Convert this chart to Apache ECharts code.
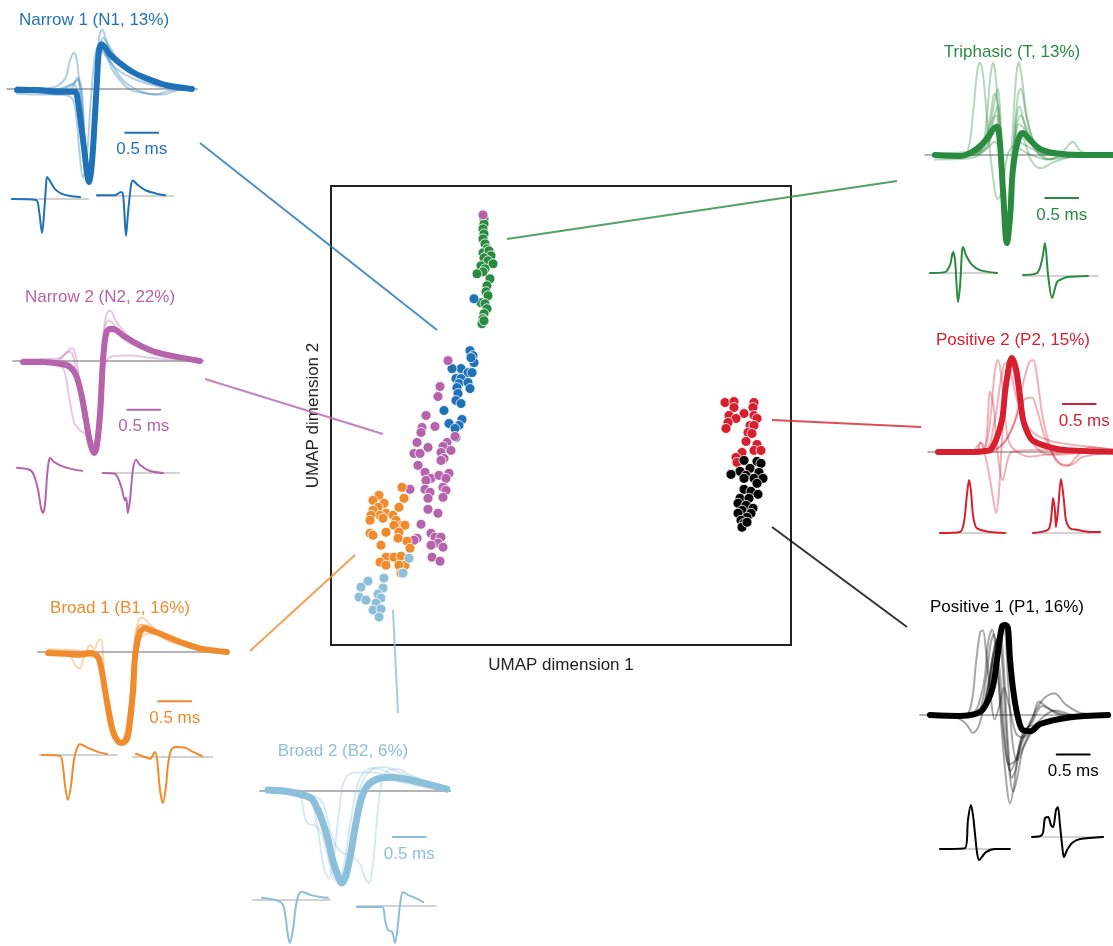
<!DOCTYPE html>
<html>
<head>
<meta charset="utf-8">
<script src="https://cdn.jsdelivr.net/npm/echarts@6/dist/echarts.min.js"></script>
<style>
  html, body { margin: 0; padding: 0; background: #fff; }
  #chart { width: 1113px; height: 946px; }
</style>
</head>
<body>
<div id="chart"></div>
<script>
// ---- UMAP embedding, one array per cluster: [dim1, dim2] ----
const UMAP_T = [[15.3,42.7],[15.3,42.2],[15.2,41.7],[15.3,41.2],[15.2,40.7],[15.4,40.2],[15.6,39.7],[15.2,39.3],[15.8,39.5],[16.0,39.0],[15.3,38.8],[15.7,38.5],[16.2,38.2],[15.0,38.0],[15.4,37.7],[15.2,37.4],[14.6,37.2],[15.9,36.7],[15.6,36.0],[15.5,35.4],[15.7,35.0],[15.0,34.3],[15.4,34.2],[15.6,33.7],[15.3,33.2],[15.2,32.7],[15.1,32.2],[15.3,32.5]];
const UMAP_N1 = [[14.3,34.7],[13.9,29.5],[14.2,29.0],[14.3,28.3],[14.0,28.8],[13.0,27.7],[12.1,27.7],[13.7,27.3],[14.1,27.3],[12.5,26.7],[13.0,26.7],[12.8,26.2],[13.7,26.3],[13.9,25.7],[12.6,25.8],[12.7,25.2],[12.5,24.5],[13.0,24.2],[11.3,23.5],[11.8,22.2],[13.1,22.6],[12.8,22.0],[12.4,21.7],[12.5,20.8]];
const UMAP_N2 = [[15.2,43.1],[11.7,28.5],[10.9,25.9],[10.7,24.9],[9.5,23.0],[9.1,21.8],[9.0,21.3],[10.4,21.9],[8.6,20.3],[9.7,19.8],[8.3,19.2],[8.9,19.2],[11.6,20.3],[11.2,19.9],[11.0,19.3],[12.0,19.5],[11.3,18.7],[11.0,18.5],[12.4,20.9],[8.7,18.0],[9.4,17.3],[10.0,16.7],[9.5,16.5],[10.8,17.0],[11.8,17.2],[11.5,16.7],[9.4,15.6],[11.2,15.8],[11.5,15.5],[11.2,14.8],[9.9,15.3],[9.7,14.7],[7.9,15.6],[9.7,13.6],[10.7,13.2],[9.0,12.1],[8.6,10.7],[8.3,10.5],[10.0,11.2],[10.4,10.8],[11.0,10.8],[10.7,10.2],[11.2,9.8],[10.1,8.8],[10.9,8.4],[10.0,10.0]];
const UMAP_B1 = [[7.1,15.8],[7.3,14.7],[4.8,15.0],[4.2,14.5],[5.3,14.2],[4.7,13.8],[4.2,13.5],[5.5,13.2],[4.9,13.0],[6.2,13.0],[6.8,13.8],[4.0,13.0],[3.9,12.5],[5.2,12.7],[6.5,12.5],[7.1,12.0],[6.3,12.0],[7.4,12.0],[5.5,11.3],[3.9,11.2],[4.2,11.0],[6.8,11.3],[7.6,10.4],[6.7,10.7],[5.0,10.0],[7.9,9.7],[5.8,8.8],[5.5,8.8],[6.3,8.8],[4.9,8.3],[7.0,8.9],[7.4,8.0],[6.8,8.0],[5.5,8.0],[7.0,7.2]];
const UMAP_B2 = [[7.8,8.7],[7.2,7.2],[5.3,6.7],[3.7,6.4],[3.0,5.8],[5.2,5.7],[2.8,4.8],[4.7,5.1],[5.0,4.7],[3.5,4.5],[4.5,4.2],[4.2,3.5],[5.0,3.6],[4.8,2.8]];
const UMAP_P2 = [[39.4,24.3],[40.3,24.4],[42.3,24.3],[40.3,23.8],[42.2,23.8],[41.3,23.2],[39.8,23.0],[40.5,22.7],[42.3,23.0],[42.6,22.7],[39.7,22.3],[39.5,21.7],[41.9,22.0],[42.3,22.0],[41.7,21.3],[42.1,21.2],[41.5,20.4],[42.6,20.1],[42.3,19.5],[43.0,19.5],[41.1,19.3],[40.5,18.8],[40.6,18.3]];
const UMAP_P1 = [[41.3,18.5],[42.6,18.4],[43.0,18.2],[41.9,17.7],[40.9,17.4],[40.0,17.1],[41.5,17.0],[42.8,17.3],[42.3,16.7],[43.2,16.7],[41.3,16.7],[42.6,16.2],[41.3,15.6],[42.0,15.4],[42.7,15.1],[40.9,14.7],[41.8,14.7],[40.7,14.2],[41.5,14.0],[42.2,13.7],[41.1,13.5],[40.7,13.2],[42.0,13.2],[41.6,12.8],[41.0,12.5],[41.3,12.2],[41.1,11.8],[41.6,12.3]];

// ---- waveforms: [time (ms), normalised amplitude] ----
const N1_MEAN = [[0,-0.01],[0.3,-0.01],[0.6,-0.03],[0.8,-0.03],[0.88,-0.03],[0.92,-0.12],[0.97,-0.38],[1.02,-0.66],[1.06,-0.9],[1.09,-1.0],[1.12,-0.9],[1.15,-0.66],[1.18,-0.3],[1.21,0.06],[1.24,0.4],[1.28,0.48],[1.33,0.45],[1.4,0.38],[1.52,0.3],[1.76,0.18],[2.02,0.1],[2.27,0.04],[2.65,0]];
const N1_VARS = [
  [[0,0],[0.5,0.01],[0.72,0.1],[0.8,0.3],[0.86,0.39],[0.91,0.3],[0.96,-0.1],[1.02,-0.6],[1.07,-0.95],[1.1,-0.9],[1.15,-0.45],[1.2,0.2],[1.25,0.58],[1.29,0.64],[1.35,0.53],[1.48,0.31],[1.79,0.15],[2.17,0.04],[2.65,0]],
  [[0,-0.05],[0.5,-0.06],[0.8,-0.02],[0.92,0.12],[0.98,0.0],[1.03,-0.6],[1.08,-0.98],[1.12,-0.85],[1.18,-0.2],[1.23,0.35],[1.28,0.5],[1.4,0.32],[1.6,0.1],[1.85,-0.02],[2.1,-0.06],[2.3,-0.02],[2.65,0]],
  [[0,0.02],[0.6,0.0],[0.85,0.06],[0.92,0.1],[0.98,-0.1],[1.04,-0.7],[1.1,-0.98],[1.14,-0.8],[1.2,-0.1],[1.25,0.4],[1.3,0.55],[1.38,0.48],[1.55,0.3],[1.8,0.14],[2.1,0.05],[2.65,0.0]],
  [[0,-0.02],[0.6,-0.06],[0.8,-0.08],[0.88,-0.2],[0.95,-0.7],[1.0,-0.95],[1.05,-0.8],[1.12,-0.1],[1.18,0.35],[1.23,0.45],[1.35,0.35],[1.5,0.22],[1.8,0.1],[2.2,0.02],[2.65,0]],
  [[0,0.02],[0.7,0.0],[0.85,0.05],[0.95,-0.2],[1.03,-0.75],[1.09,-0.98],[1.13,-0.8],[1.19,-0.1],[1.25,0.35],[1.3,0.42],[1.45,0.2],[1.7,0.0],[2.0,-0.05],[2.2,-0.06],[2.4,-0.02],[2.65,0]]
];
const N1_EX_A = [[0,0],[0.91,-0.03],[1.02,-0.32],[1.14,-1.0],[1.21,-0.47],[1.29,0.41],[1.33,0.65],[1.44,0.53],[1.63,0.29],[1.89,0.15],[2.2,0.09],[2.58,0.06]];
const N1_EX_B = [[0,0.02],[0.68,0.02],[0.91,0.1],[0.98,0.05],[1.02,-0.22],[1.1,-1.0],[1.17,-0.46],[1.29,0.27],[1.36,0.39],[1.52,0.29],[1.82,0.15],[2.2,0.07],[2.58,0.02]];

const N2_MEAN = [[0,-0.01],[0.3,-0.01],[0.56,-0.03],[0.7,-0.06],[0.8,-0.15],[0.88,-0.35],[0.95,-0.62],[1.01,-0.86],[1.08,-1.0],[1.12,-0.92],[1.17,-0.56],[1.21,-0.02],[1.26,0.3],[1.32,0.35],[1.4,0.34],[1.55,0.26],[1.77,0.17],[2.0,0.1],[2.3,0.05],[2.68,0.0]];
const N2_VARS = [
  [[0,0],[0.5,0.0],[0.65,0.08],[0.74,0.14],[0.8,0.05],[0.88,-0.35],[0.96,-0.75],[1.04,-0.98],[1.1,-0.9],[1.16,-0.4],[1.21,0.25],[1.27,0.52],[1.32,0.55],[1.42,0.42],[1.6,0.27],[1.9,0.12],[2.3,0.04],[2.68,0]],
  [[0,-0.02],[0.5,-0.04],[0.62,-0.1],[0.7,-0.4],[0.78,-0.68],[0.86,-0.75],[0.95,-0.8],[1.03,-0.97],[1.09,-0.9],[1.15,-0.4],[1.2,0.1],[1.27,0.3],[1.35,0.32],[1.6,0.2],[2.0,0.08],[2.68,0]],
  [[0,0.01],[0.6,0],[0.8,-0.1],[0.92,-0.6],[1.02,-0.95],[1.1,-0.85],[1.18,-0.3],[1.25,-0.02],[1.35,0.05],[1.6,0.06],[2.0,0.03],[2.68,0]],
  [[0,0.02],[0.55,0.03],[0.68,0.1],[0.75,0.08],[0.82,-0.2],[0.9,-0.55],[1.0,-0.9],[1.07,-1.0],[1.12,-0.8],[1.18,-0.2],[1.24,0.35],[1.3,0.44],[1.45,0.33],[1.7,0.18],[2.1,0.06],[2.68,0]]
];
const N2_EX_A = [[0,0.05],[0.49,0],[0.64,-0.12],[0.8,-0.47],[0.91,-0.88],[0.98,-1.0],[1.06,-0.81],[1.14,-0.12],[1.21,0.23],[1.25,0.28],[1.4,0.19],[1.7,0.09],[2.08,0.02],[2.46,-0.02]];
const N2_EX_B = [[0.04,0],[0.49,-0.02],[0.64,-0.18],[0.76,-0.42],[0.87,-0.68],[0.91,-0.62],[0.95,-0.8],[0.98,-1.0],[1.06,-0.68],[1.17,0.08],[1.29,0.33],[1.44,0.2],[1.82,0.05],[2.31,0]];

const B1_MEAN = [[0,-0.01],[0.26,-0.02],[0.48,-0.03],[0.64,-0.01],[0.74,-0.04],[0.79,-0.12],[0.89,-0.53],[0.98,-0.86],[1.06,-0.98],[1.12,-1.0],[1.2,-0.95],[1.24,-0.78],[1.29,-0.42],[1.32,-0.05],[1.39,0.21],[1.47,0.26],[1.55,0.24],[1.7,0.2],[2.0,0.11],[2.3,0.04],[2.71,0]];
const B1_VARS = [
  [[0,0.02],[0.5,0.0],[0.7,-0.02],[0.8,-0.2],[0.9,-0.6],[1.0,-0.9],[1.1,-1.0],[1.18,-0.92],[1.25,-0.5],[1.3,0.05],[1.36,0.32],[1.42,0.38],[1.52,0.32],[1.7,0.2],[2.0,0.1],[2.71,0]],
  [[0,0.0],[0.3,-0.02],[0.42,-0.15],[0.48,-0.18],[0.55,-0.05],[0.64,0.08],[0.7,0.03],[0.76,0.12],[0.8,0.14],[0.86,-0.3],[0.95,-0.75],[1.05,-0.97],[1.12,-0.98],[1.2,-0.8],[1.28,-0.2],[1.34,0.2],[1.42,0.3],[1.6,0.22],[1.9,0.1],[2.71,0]],
  [[0,-0.03],[0.6,-0.05],[0.76,-0.08],[0.84,-0.4],[0.95,-0.85],[1.06,-1.0],[1.16,-0.95],[1.24,-0.6],[1.3,-0.1],[1.38,0.12],[1.5,0.2],[1.7,0.19],[2.0,0.12],[2.4,0.03],[2.71,0]],
  [[0,0.03],[0.4,0.02],[0.7,0.0],[0.82,-0.35],[0.92,-0.8],[1.02,-0.98],[1.12,-0.97],[1.22,-0.7],[1.28,-0.2],[1.33,0.18],[1.4,0.3],[1.55,0.28],[1.75,0.18],[2.1,0.08],[2.71,0]]
];
const B1_EX_A = [[0,0],[0.68,-0.02],[0.8,-0.29],[0.87,-0.67],[0.98,-1.0],[1.1,-0.67],[1.21,-0.11],[1.33,0.16],[1.44,0.24],[1.74,0.16],[2.12,0.07],[2.46,0.02]];
const B1_EX_B = [[0,0.07],[0.34,0],[0.53,-0.04],[0.72,0.11],[0.8,-0.07],[0.91,-0.72],[1.02,-1.0],[1.14,-0.61],[1.21,-0.17],[1.33,0.15],[1.48,0.22],[1.86,0.2],[2.16,0.11],[2.5,0.02]];

const B2_MEAN = [[0,0.01],[0.33,-0.01],[0.56,-0.05],[0.67,-0.09],[0.76,-0.21],[0.83,-0.34],[0.91,-0.53],[0.98,-0.75],[1.06,-0.92],[1.12,-1.0],[1.18,-0.92],[1.24,-0.73],[1.32,-0.4],[1.39,-0.15],[1.48,0.03],[1.62,0.12],[1.85,0.15],[2.08,0.13],[2.38,0.08],[2.71,0.02]];
const B2_VARS = [
  [[0,0.02],[0.5,-0.02],[0.8,-0.1],[0.95,-0.45],[1.05,-0.62],[1.15,-0.68],[1.3,-0.72],[1.4,-0.8],[1.47,-0.95],[1.53,-1.0],[1.58,-0.85],[1.64,-0.4],[1.7,0.0],[1.78,0.2],[1.95,0.24],[2.2,0.16],[2.71,0.03]],
  [[0,0.0],[0.4,-0.02],[0.5,-0.08],[0.56,-0.3],[0.62,-0.36],[0.7,-0.37],[0.8,-0.45],[0.9,-0.7],[1.0,-0.95],[1.08,-0.98],[1.15,-0.8],[1.25,-0.35],[1.35,0.05],[1.45,0.2],[1.6,0.25],[1.9,0.18],[2.3,0.08],[2.71,0.02]],
  [[0,0.0],[0.5,-0.03],[0.65,-0.1],[0.75,-0.4],[0.85,-0.85],[0.92,-0.95],[1.0,-0.7],[1.08,-0.2],[1.15,0.1],[1.3,0.2],[1.6,0.2],[2.0,0.1],[2.71,0.0]],
  [[0,0.03],[0.5,0.0],[0.7,-0.1],[0.85,-0.45],[1.0,-0.88],[1.1,-0.98],[1.2,-0.8],[1.3,-0.35],[1.4,0.05],[1.55,0.22],[1.75,0.26],[2.0,0.2],[2.4,0.08],[2.71,0.0]]
];
const B2_EX_A = [[0,0.05],[0.61,-0.02],[0.8,-0.12],[0.91,-0.47],[0.98,-0.81],[1.06,-1.0],[1.17,-0.7],[1.29,-0.12],[1.4,0.14],[1.52,0.19],[1.82,0.12],[2.2,0.07],[2.5,0.05]];
const B2_EX_B = [[0,-0.03],[0.95,-0.03],[1.06,-0.38],[1.17,-0.65],[1.33,-0.7],[1.44,-1.0],[1.55,-0.51],[1.63,0.03],[1.74,0.38],[1.93,0.3],[2.2,0.22],[2.5,0.11]];

const T_MEAN = [[0,0],[0.38,-0.01],[0.55,0.03],[0.71,0.12],[0.82,0.22],[0.88,0.29],[0.94,0.32],[0.98,0.17],[1.03,-0.4],[1.09,-1.0],[1.14,-0.68],[1.18,-0.17],[1.26,0.17],[1.33,0.25],[1.44,0.17],[1.59,0.07],[1.82,0.02],[2.2,0],[2.75,0]];
const T_VARS = [
  [[0,0.0],[0.4,0.0],[0.5,0.05],[0.58,0.5],[0.64,0.95],[0.68,1.05],[0.73,0.9],[0.8,0.3],[0.87,-0.2],[0.95,-0.5],[1.02,-0.4],[1.1,0.0],[1.2,0.1],[1.4,0.02],[1.7,-0.05],[2.1,-0.02],[2.75,0]],
  [[0,-0.02],[0.5,-0.01],[0.7,0.05],[0.78,0.4],[0.84,0.9],[0.88,1.05],[0.93,0.8],[0.98,0.0],[1.04,-0.8],[1.09,-0.95],[1.14,-0.6],[1.2,-0.1],[1.27,0.15],[1.4,0.1],[1.7,0.0],[2.75,0]],
  [[0,0.01],[0.6,0.0],[0.8,0.08],[0.9,0.15],[0.98,0.05],[1.04,-0.7],[1.08,-0.9],[1.13,-0.5],[1.18,0.3],[1.23,0.9],[1.27,1.05],[1.32,0.85],[1.4,0.4],[1.5,0.15],[1.65,0.05],[1.95,0.0],[2.75,0]],
  [[0,0],[0.6,0.02],[0.8,0.25],[0.9,0.6],[0.95,0.75],[1.0,0.3],[1.05,-0.6],[1.1,-0.85],[1.15,-0.4],[1.22,0.35],[1.28,0.55],[1.36,0.35],[1.5,0.12],[1.8,0.02],[2.75,0]],
  [[0,0.02],[0.7,0.05],[0.85,0.2],[0.93,0.35],[0.99,0.0],[1.05,-0.75],[1.1,-0.85],[1.16,-0.3],[1.24,0.35],[1.3,0.45],[1.4,0.25],[1.55,0.05],[1.75,-0.05],[1.95,0.05],[2.09,0.15],[2.2,0.05],[2.4,0.0],[2.75,0]],
  [[0,-0.05],[0.5,-0.04],[0.8,0.1],[0.9,0.45],[0.95,0.55],[1.0,0.2],[1.05,-0.5],[1.1,-0.8],[1.16,-0.45],[1.24,0.1],[1.32,0.2],[1.45,-0.05],[1.6,-0.15],[1.8,-0.08],[2.1,-0.02],[2.75,0]],
  [[0,0],[0.6,0.02],[0.75,0.15],[0.85,0.5],[0.9,0.7],[0.95,0.6],[1.0,0.1],[1.05,-0.7],[1.09,-0.95],[1.14,-0.55],[1.2,0.2],[1.26,0.7],[1.3,0.75],[1.38,0.45],[1.5,0.15],[1.7,0.0],[2.75,0]],
  [[0,0],[0.65,0.03],[0.8,0.2],[0.88,0.42],[0.93,0.45],[0.99,0.05],[1.05,-0.85],[1.09,-1.0],[1.14,-0.6],[1.2,0.05],[1.27,0.35],[1.35,0.3],[1.5,0.08],[1.7,-0.05],[1.9,-0.02],[2.75,0]]
];
const T_EX_A = [[0,0],[0.57,0.03],[0.76,0.28],[0.87,0.72],[0.95,0.45],[1.06,-1.0],[1.14,-0.41],[1.21,0.72],[1.25,0.9],[1.36,0.62],[1.59,0.28],[1.89,0.1],[2.54,0]];
const T_EX_B = [[0,0.03],[0.53,0.09],[0.72,0.48],[0.83,1.0],[0.95,0.03],[1.1,-0.67],[1.29,-0.18],[1.48,-0.09],[1.67,-0.03],[2.46,0]];

const P2_MEAN = [[0,0],[0.48,0],[0.71,0.01],[0.79,0.02],[0.88,0.13],[0.97,0.34],[1.02,0.66],[1.08,0.93],[1.12,1.0],[1.18,0.89],[1.23,0.66],[1.29,0.34],[1.36,0.2],[1.44,0.12],[1.7,0.05],[1.95,0.02],[2.75,0]];
const P2_VARS = [
  [[0,0],[0.6,0.0],[0.72,0.05],[0.8,0.4],[0.86,0.85],[0.91,0.98],[0.96,0.8],[1.02,0.35],[1.08,0.1],[1.2,0.0],[1.4,-0.05],[1.7,-0.02],[2.75,0]],
  [[0,0],[0.8,0.0],[1.0,0.1],[1.15,0.3],[1.28,0.7],[1.38,0.95],[1.44,0.98],[1.5,0.8],[1.58,0.4],[1.68,0.1],[1.8,-0.1],[1.95,-0.15],[2.1,-0.05],[2.3,0.05],[2.75,0.0]],
  [[0,0],[0.59,0.02],[0.64,0.1],[0.71,-0.03],[0.79,-0.3],[0.85,-0.56],[0.88,-0.65],[0.92,-0.46],[0.97,0.13],[1.02,0.6],[1.09,0.98],[1.17,0.77],[1.27,0.34],[1.39,0.13],[1.7,-0.03],[2.45,0],[2.75,0]],
  [[0,0],[0.5,0.0],[0.62,0.08],[0.66,0.1],[0.7,0.05],[0.74,0.2],[0.79,0.64],[0.84,0.5],[0.9,0.0],[0.98,-0.3],[1.05,-0.1],[1.12,0.0],[1.5,0.02],[2.75,0]],
  [[0,0.0],[0.8,0.02],[1.0,0.1],[1.15,0.3],[1.3,0.55],[1.42,0.58],[1.5,0.45],[1.6,0.2],[1.72,0.0],[1.85,-0.12],[2.0,-0.14],[2.2,-0.05],[2.75,0.0]],
  [[0,0.0],[0.7,0.02],[0.85,0.3],[0.95,0.75],[1.02,0.95],[1.08,0.9],[1.18,0.6],[1.3,0.35],[1.45,0.2],[1.7,0.12],[2.0,0.08],[2.75,0.02]]
];
const P2_EX_A = [[0,0],[0.76,0.02],[0.91,0.21],[1.02,0.72],[1.1,1.0],[1.17,0.81],[1.25,0.34],[1.36,0.11],[1.52,0.06],[1.89,0.02],[2.46,0]];
const P2_EX_B = [[0,0],[0.57,0.06],[0.68,0.24],[0.76,0.65],[0.83,0.43],[0.87,0.11],[0.95,0.43],[1.06,1.0],[1.17,0.61],[1.25,0.24],[1.4,0.09],[1.67,0.06],[2.16,0.02],[2.54,0.02]];

const P1_MEAN = [[0,0],[0.45,-0.01],[0.68,0.01],[0.8,0.06],[0.94,0.28],[1.02,0.64],[1.09,0.98],[1.14,1.0],[1.18,0.97],[1.21,0.64],[1.26,0.28],[1.33,-0.02],[1.41,-0.17],[1.52,-0.18],[1.67,-0.1],[2.08,-0.03],[2.7,0]];
const P1_VARS = [
  [[0,0.0],[0.6,0.0],[0.75,0.05],[0.85,0.4],[0.92,0.8],[0.97,0.9],[1.02,0.6],[1.08,-0.1],[1.15,-0.7],[1.21,-0.98],[1.27,-0.8],[1.35,-0.35],[1.45,-0.15],[1.7,-0.1],[2.1,-0.04],[2.7,0]],
  [[0,0.0],[0.5,-0.02],[0.62,0.1],[0.7,0.6],[0.76,0.92],[0.8,0.94],[0.85,0.7],[0.92,0.2],[0.98,-0.05],[1.05,0.1],[1.12,0.3],[1.2,0.1],[1.3,-0.2],[1.4,-0.25],[1.6,-0.1],[1.9,0.05],[2.2,0.0],[2.7,0]],
  [[0,0.02],[0.6,0.0],[0.8,0.3],[0.88,0.8],[0.94,0.95],[1.0,0.7],[1.06,0.2],[1.12,-0.25],[1.2,-0.55],[1.3,-0.5],[1.45,-0.2],[1.6,0.05],[1.75,0.2],[1.89,0.24],[2.05,0.12],[2.3,0.02],[2.7,0.0]],
  [[0,0.0],[0.4,-0.03],[0.55,-0.1],[0.65,-0.2],[0.75,-0.1],[0.88,0.35],[0.98,0.75],[1.06,0.9],[1.12,0.5],[1.18,-0.3],[1.24,-0.7],[1.3,-0.6],[1.4,-0.25],[1.55,-0.05],[1.65,0.15],[1.75,0.1],[2.0,0.0],[2.7,0]],
  [[0,-0.02],[0.7,0.0],[0.85,0.15],[0.95,0.55],[1.05,0.9],[1.12,0.95],[1.18,0.4],[1.25,-0.3],[1.32,-0.5],[1.42,-0.35],[1.6,-0.15],[2.0,-0.03],[2.7,0]],
  [[0,0],[0.7,0.0],[0.85,0.2],[0.95,0.65],[1.02,0.85],[1.08,0.7],[1.14,0.0],[1.2,-0.6],[1.26,-0.85],[1.32,-0.7],[1.42,-0.35],[1.6,-0.12],[2.0,-0.03],[2.7,0]],
  [[0,0.01],[0.7,0.0],[0.82,0.1],[0.92,0.45],[0.98,0.7],[1.04,0.6],[1.1,0.05],[1.16,-0.45],[1.22,-0.62],[1.3,-0.5],[1.4,-0.25],[1.55,-0.08],[1.7,0.1],[1.85,0.05],[2.1,0.0],[2.7,0]]
];
const P1_EX_A = [[0,0],[0.95,0.02],[1.06,0.66],[1.17,1.0],[1.25,0.77],[1.33,0.32],[1.4,-0.07],[1.48,-0.25],[1.59,-0.18],[1.74,-0.07],[2.08,0],[2.65,0]];
const P1_EX_B = [[0,0],[0.38,0.07],[0.49,0.63],[0.61,0.67],[0.72,0.4],[0.8,0.33],[0.91,0.9],[0.98,1.0],[1.06,0.4],[1.14,-0.27],[1.21,-0.67],[1.33,-0.43],[1.52,-0.2],[1.82,-0.07],[2.69,0]];

const SCALE_MS = 0.5;

// ---- layout (pixels) ----
const W = 1113, H = 946;
const FONT = '"Liberation Sans", Arial, Helvetica, sans-serif';
const K = 66, KE = 26.4;            // px per ms, main and example plots

const panels = [
  { title: 'Narrow 1 (N1, 13%)', color: '#1f72b8', tx: 94, ty: 20, x0: 17, y0: 89, U: 93, base: [-0.15, 2.73], bar: [1.64, -0.47],
    mean: N1_MEAN, vars: N1_VARS, line: [200, 143, 437, 330],
    ex: [{ d: N1_EX_A, x0: 12, y0: 199, U: 34, base: [0, 2.88] }, { d: N1_EX_B, x0: 97, y0: 196, U: 40, base: [0, 2.88] }] },
  { title: 'Narrow 2 (N2, 22%)', color: '#b564ac', tx: 100, ty: 297, x0: 23, y0: 361, U: 92, base: [-0.15, 2.73], bar: [1.58, -0.53],
    mean: N2_MEAN, vars: N2_VARS, line: [205, 379, 383, 434],
    ex: [{ d: N2_EX_A, x0: 17, y0: 470, U: 43, base: null }, { d: N2_EX_B, x0: 102, y0: 473, U: 40, base: [0, 2.92] }] },
  { title: 'Broad 1 (B1, 16%)', color: '#ef8a2d', tx: 120, ty: 608, x0: 48, y0: 652, U: 91, base: [-0.15, 2.73], bar: [1.67, -0.54],
    mean: B1_MEAN, vars: B1_VARS, line: [250, 651, 355, 555],
    ex: [{ d: B1_EX_A, x0: 42, y0: 755, U: 45, base: [-0.08, 2.84] }, { d: B1_EX_B, x0: 136, y0: 757, U: 46, base: [-0.11, 2.88] }] },
  { title: 'Broad 2 (B2, 6%)', color: '#8cbfd9', tx: 343, ty: 751, x0: 268, y0: 791, U: 92, base: [-0.12, 2.76], bar: [1.89, -0.5],
    mean: B2_MEAN, vars: B2_VARS, line: [393, 610, 398, 713], meanW: 7,
    ex: [{ d: B2_EX_A, x0: 262, y0: 900, U: 43, base: [-0.34, 2.58] }, { d: B2_EX_B, x0: 357, y0: 906, U: 37, base: [0, 2.99] }] },
  { title: 'Triphasic (T, 13%)', color: '#2a8b40', tx: 1012, ty: 52, x0: 935, y0: 155, U: 88, base: [-0.15, 2.85], bar: [1.67, -0.49],
    mean: T_MEAN, vars: T_VARS, line: [507, 239, 897, 181],
    ex: [{ d: T_EX_A, x0: 930, y0: 273, U: 29, base: [0, 2.54] }, { d: T_EX_B, x0: 1023, y0: 276, U: 33, base: [0, 2.84] }] },
  { title: 'Positive 2 (P2, 15%)', color: '#d62030', tx: 1013, ty: 340, x0: 938, y0: 452, U: 94, base: [-0.15, 2.85], bar: [1.89, 0.51],
    mean: P2_MEAN, vars: P2_VARS, line: [772, 420, 921, 427], barLabelShift: 5,
    ex: [{ d: P2_EX_A, x0: 940, y0: 533, U: 53, base: [0, 2.54] }, { d: P2_EX_B, x0: 1033, y0: 533, U: 54, base: [0, 2.54] }] },
  { title: 'Positive 1 (P1, 16%)', color: '#000000', tx: 1007, ty: 607, x0: 930, y0: 715, U: 90, base: [-0.15, 2.68], bar: [1.92, -0.44],
    mean: P1_MEAN, vars: P1_VARS, line: [772, 527, 907, 627],
    ex: [{ d: P1_EX_A, x0: 940, y0: 849, U: 44, base: [0, 2.65] }, { d: P1_EX_B, x0: 1032, y0: 837, U: 30, base: [0, 2.69] }] }
];

const clusters = [
  { data: UMAP_T, color: '#2a8b40' }, { data: UMAP_N1, color: '#1f72b8' }, { data: UMAP_N2, color: '#b564ac' },
  { data: UMAP_B1, color: '#ef8a2d' }, { data: UMAP_B2, color: '#8cbfd9' }, { data: UMAP_P2, color: '#d62030' },
  { data: UMAP_P1, color: '#000000' }
];

const grid = [], xAxis = [], yAxis = [], series = [], graphic = [];

// grid whose data origin (t=0, amp=0) sits at pixel (x0, y0); k px per ms, U px per amplitude unit.
// the value ranges are trimmed so every grid stays inside the canvas.
function addGrid(x0, y0, k, U) {
  const i = grid.length;
  const xmin = Math.max(-0.4, -(x0 - 1) / k), xmax = Math.min(3.2, (W - 1 - x0) / k);
  const ymax = Math.min(1.3, (y0 - 1) / U), ymin = Math.max(-1.3, -(H - 1 - y0) / U);
  grid.push({ left: x0 + xmin * k, top: y0 - ymax * U, width: (xmax - xmin) * k, height: (ymax - ymin) * U });
  xAxis.push({ type: 'value', gridIndex: i, min: xmin, max: xmax, show: false });
  yAxis.push({ type: 'value', gridIndex: i, min: ymin, max: ymax, show: false });
  return i;
}

function addLine(gi, data, color, width, opacity, smooth) {
  series.push({
    type: 'line', xAxisIndex: gi, yAxisIndex: gi, data: data, symbol: 'none', showSymbol: false,
    smooth: smooth, clip: false, silent: true, animation: false,
    lineStyle: { color: color, width: width, opacity: opacity, cap: 'round', join: 'round' }
  });
}

function label(text, x, y, color) {
  graphic.push({ type: 'text', x: x, y: y, silent: true, z: 10,
    style: { text: text, fill: color, font: '17px ' + FONT, textAlign: 'center', textVerticalAlign: 'middle', align: 'center', verticalAlign: 'middle' } });
}

// central UMAP scatter
const sg = grid.length;
grid.push({ left: 331, top: 186, width: 460, height: 459, show: true, borderColor: '#222', borderWidth: 2, backgroundColor: 'transparent' });
xAxis.push({ type: 'value', gridIndex: sg, min: 0, max: 46, name: 'UMAP dimension 1', nameLocation: 'middle', nameGap: 12,
  nameTextStyle: { fontSize: 17, fontFamily: FONT, color: '#222' },
  axisLine: { show: false }, axisTick: { show: false }, axisLabel: { show: false }, splitLine: { show: false } });
yAxis.push({ type: 'value', gridIndex: sg, min: 0, max: 46, name: 'UMAP dimension 2', nameLocation: 'middle', nameGap: 9,
  nameTextStyle: { fontSize: 17, fontFamily: FONT, color: '#222' },
  axisLine: { show: false }, axisTick: { show: false }, axisLabel: { show: false }, splitLine: { show: false } });
clusters.forEach(c => {
  series.push({ type: 'scatter', xAxisIndex: sg, yAxisIndex: sg, data: c.data, symbolSize: 10, silent: true, animation: false,
    itemStyle: { color: c.color, borderColor: '#fff', borderWidth: 0.8, opacity: 1 } });
});

panels.forEach(p => {
  // connector from panel to its cluster
  graphic.push({ type: 'line', silent: true, z: 1,
    shape: { x1: p.line[0], y1: p.line[1], x2: p.line[2], y2: p.line[3] },
    style: { stroke: p.color, lineWidth: 2, opacity: 0.8 } });

  const gi = addGrid(p.x0, p.y0, K, p.U);
  addLine(gi, [[p.base[0], 0], [p.base[1], 0]], '#b4b4b4', 2, 1, false);
  p.vars.forEach(v => addLine(gi, v, p.color, 2, 0.35, 0.35));
  addLine(gi, p.mean, p.color, p.meanW || 6, 1, 0.35);
  // 0.5 ms scale bar
  addLine(gi, [[p.bar[0], p.bar[1]], [p.bar[0] + SCALE_MS, p.bar[1]]], p.color, 2, 1, false);
  label(SCALE_MS + ' ms', p.x0 + (p.bar[0] + SCALE_MS / 2) * K + (p.barLabelShift || 0), p.y0 - p.bar[1] * p.U + 17, p.color);
  label(p.title, p.tx, p.ty, p.color);

  p.ex.forEach(e => {
    const ei = addGrid(e.x0, e.y0, KE, e.U);
    if (e.base) addLine(ei, [[e.base[0], 0], [e.base[1], 0]], '#d2d2d2', 2, 1, false);
    addLine(ei, e.d, p.color, 2, 1, 0.3);
  });
});

const chart = echarts.init(document.getElementById('chart'), null, { renderer: 'canvas' });
chart.setOption({
  backgroundColor: '#fff',
  animation: false,
  grid: grid, xAxis: xAxis, yAxis: yAxis, series: series, graphic: graphic
});
</script>
</body>
</html>
